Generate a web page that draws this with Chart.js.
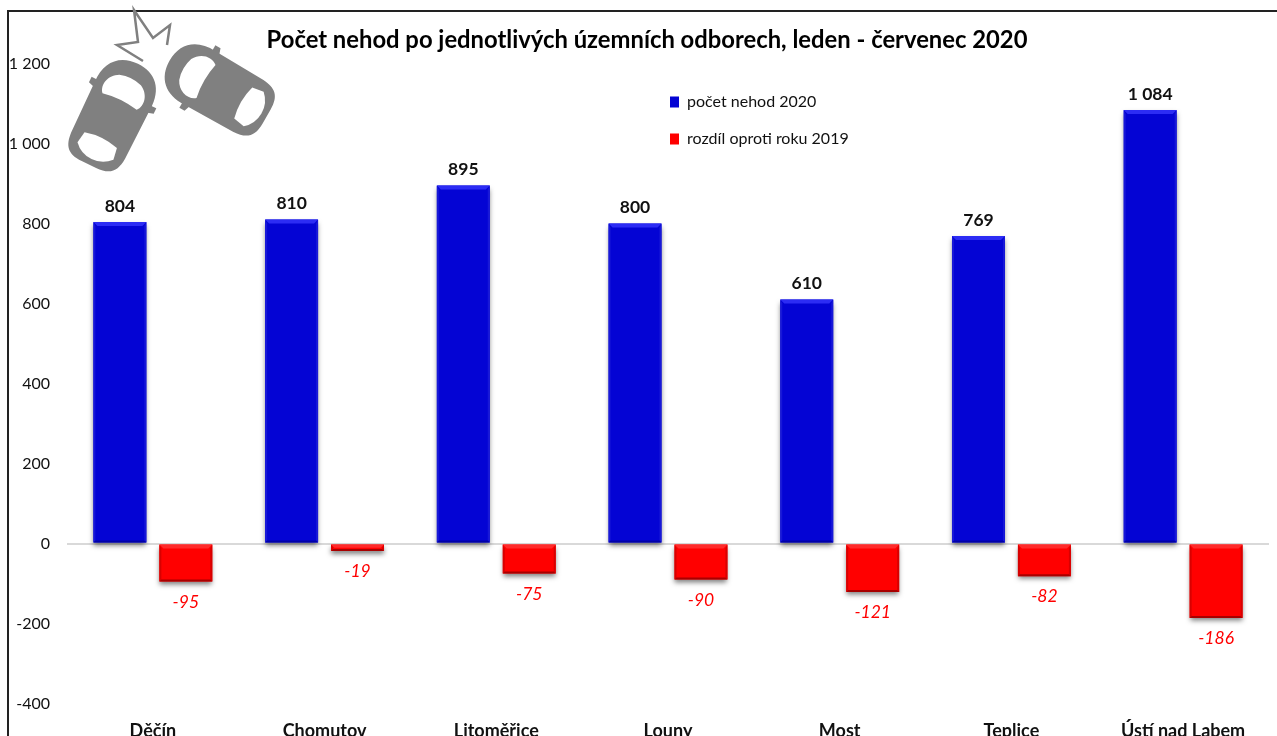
<!DOCTYPE html>
<html><head><meta charset="utf-8">
<style>html,body{margin:0;padding:0;background:#fff;overflow:hidden}#w{position:relative;width:1277px;height:736px}</style>
<script src="https://cdn.jsdelivr.net/npm/chart.js@4"></script></head>
<body><div id="w"><canvas id="c" width="1277" height="736"></canvas></div>
<script>
const categories=['Děčín','Chomutov','Litoměřice','Louny','Most','Teplice','Ústí nad Labem'];
const accidents2020=[804,810,895,800,610,769,1084];
const changeFrom2019=[-95,-19,-75,-90,-121,-82,-186];
const seriesNames=['počet nehod 2020','rozdíl oproti roku 2019'];
const chartTitle='Počet nehod po jednotlivých územních odborech, leden - červenec 2020';
const FONT='Lato, Carlito, sans-serif';
const fmt=v=>{const s=Math.abs(v).toString().replace(/\B(?=(\d{3})+$)/g,' ');return (v<0?'-':'')+s;};

function poly(ctx,pts,fill){ctx.fillStyle=fill;ctx.beginPath();pts.forEach((p,i)=>i?ctx.lineTo(p[0],p[1]):ctx.moveTo(p[0],p[1]));ctx.closePath();ctx.fill();}

const bevel={id:'bevel',
 afterDatasetsDraw(chart){
  const ctx=chart.ctx;
  chart.data.datasets.forEach((ds,di)=>{
   const meta=chart.getDatasetMeta(di);
   const pal=di===0?{t:'#2c2cf4',s:'#1818d8',b:'#0000a8'}:{t:'#ff2a2a',s:'#d80000',b:'#a80000'};
   meta.data.forEach(bar=>{
    const {x,y,base,width}=bar.getProps(['x','y','base','width'],false);
    const l=x-width/2,r=x+width/2,t=Math.min(y,base),b=Math.max(y,base),d=Math.min(4,(b-t)/2),e=Math.min(2,d);
    poly(ctx,[[l,t],[r,t],[r-d,t+d],[l+d,t+d]],pal.t);
    poly(ctx,[[l,t],[l+e,t+d],[l+e,b-e],[l,b]],pal.s);
    poly(ctx,[[r,t],[r-e,t+d],[r-e,b-e],[r,b]],pal.s);
    poly(ctx,[[l,b],[r,b],[r-e,b-e],[l+e,b-e]],pal.b);
   });
  });
 }};
const shadow={id:'shadow',
 beforeDatasetDraw(chart){const c=chart.ctx;c.save();c.shadowColor='rgba(0,0,0,.5)';c.shadowBlur=5;c.shadowOffsetY=3;},
 afterDatasetDraw(chart){chart.ctx.restore();}};
const valueLabels={id:'valueLabels',
 afterDatasetsDraw(chart){
  const ctx=chart.ctx;ctx.save();ctx.textAlign='center';ctx.textBaseline='middle';
  chart.data.datasets.forEach((ds,di)=>{
   chart.getDatasetMeta(di).data.forEach((bar,i)=>{
    const v=ds.data[i];
    if(di===0){ctx.font='bold 17.5px '+FONT;ctx.fillStyle='#111';ctx.fillText(fmt(v),bar.x,bar.y-16);}
    else{ctx.font='italic 17.5px '+FONT;ctx.fillStyle='#ff0000';ctx.fillText(fmt(v),bar.x,bar.y+20.5);}
   });
  });
  ctx.restore();
 }};
function car(ctx,cx,cy,deg){
 ctx.save();ctx.translate(cx,cy);ctx.rotate(deg*Math.PI/180);
 ctx.fillStyle='#808080';
 // body, nose toward +x
 ctx.beginPath();
 ctx.moveTo(-55,-8);
 ctx.bezierCurveTo(-55,-24,-48,-29,-34,-30);
 ctx.lineTo(22,-31);
 ctx.bezierCurveTo(44,-32,57,-20,57,0);
 ctx.bezierCurveTo(57,20,44,32,22,31);
 ctx.lineTo(-34,30);
 ctx.bezierCurveTo(-48,29,-55,24,-55,8);
 ctx.closePath();ctx.fill();
 // mirrors
 poly(ctx,[[17,-30],[19,-36],[25,-36],[25,-30]],'#808080');
 poly(ctx,[[17,30],[19,36],[25,36],[25,30]],'#808080');
 ctx.fillStyle='#fff';
 // windshield
 ctx.beginPath();
 ctx.moveTo(15,-19);
 ctx.bezierCurveTo(22,-25,34,-22,39,-12);
 ctx.quadraticCurveTo(43,0,39,12);
 ctx.bezierCurveTo(34,22,22,25,15,19);
 ctx.quadraticCurveTo(19,0,15,-19);
 ctx.closePath();ctx.fill();
 // rear window
 ctx.beginPath();
 ctx.moveTo(-28,-18);
 ctx.quadraticCurveTo(-23,0,-28,18);
 ctx.lineTo(-40,20);
 ctx.quadraticCurveTo(-49,12,-49,0);
 ctx.quadraticCurveTo(-49,-12,-40,-20);
 ctx.closePath();ctx.fill();
 ctx.restore();
}
const decoration={id:'decoration',
 afterDraw(chart){
  const ctx=chart.ctx;ctx.save();
  ctx.fillStyle='#222';ctx.fillRect(7,10,2,726);ctx.fillRect(7,10,1270,2);
  car(ctx,113,115,-64);
  car(ctx,219,89,-150);
  ctx.strokeStyle='#808080';ctx.lineWidth=2.5;ctx.lineJoin='miter';
  ctx.beginPath();
  [[143,61],[117,45],[138,42],[134,10],[153,38],[170,25],[167,45]].forEach((p,i)=>i?ctx.lineTo(p[0],p[1]):ctx.moveTo(p[0],p[1]));
  ctx.stroke();
  ctx.restore();
 }};
const placeLayout={id:'placeLayout',
 afterLayout(chart){
  const l=chart.legend;if(l){const w=l.width,h=l.height;l.left=649;l.right=649+w;l.top=73;l.bottom=73+h;}
  const t=chart.titleBlock;if(t){t.left+=12.5;t.right+=12.5;}
 }};

new Chart(document.getElementById('c'),{
 type:'bar',
 data:{labels:categories,datasets:[
  {label:seriesNames[0],data:accidents2020,backgroundColor:'#0404d4'},
  {label:seriesNames[1],data:changeFrom2019,backgroundColor:'#ff0000'}]},
 plugins:[shadow,bevel,valueLabels,decoration,placeLayout],
 options:{responsive:false,animation:false,
  layout:{padding:{left:0,right:8,top:0,bottom:0}},
  datasets:{bar:{barPercentage:0.803,categoryPercentage:0.768}},
  plugins:{
   title:{display:true,text:chartTitle,color:'#000',font:{family:FONT,size:23.8,weight:'bold'},padding:{top:26.5,bottom:8.5}},
   legend:{position:'chartArea',align:'start',labels:{boxWidth:9,boxHeight:11,padding:21,color:'#111',font:{family:FONT,size:16}}},
   tooltip:{enabled:false}
  },
  scales:{
   x:{grid:{display:false},border:{display:false},
      afterFit(s){s.height=32.5;},
      ticks:{padding:8.5,maxRotation:0,color:'#111',font:{family:FONT,size:18,weight:'bold'}}},
   y:{min:-400,max:1200,grid:{drawTicks:false,lineWidth:2,color:c=>c.tick.value===0?'#d9d9d9':'rgba(0,0,0,0)'},border:{display:false},
      afterFit(s){s.width=67;},
      ticks:{stepSize:200,padding:17,color:'#111',font:{family:FONT,size:16},callback:v=>fmt(v)}}
  }
 }
});
</script></body></html>
